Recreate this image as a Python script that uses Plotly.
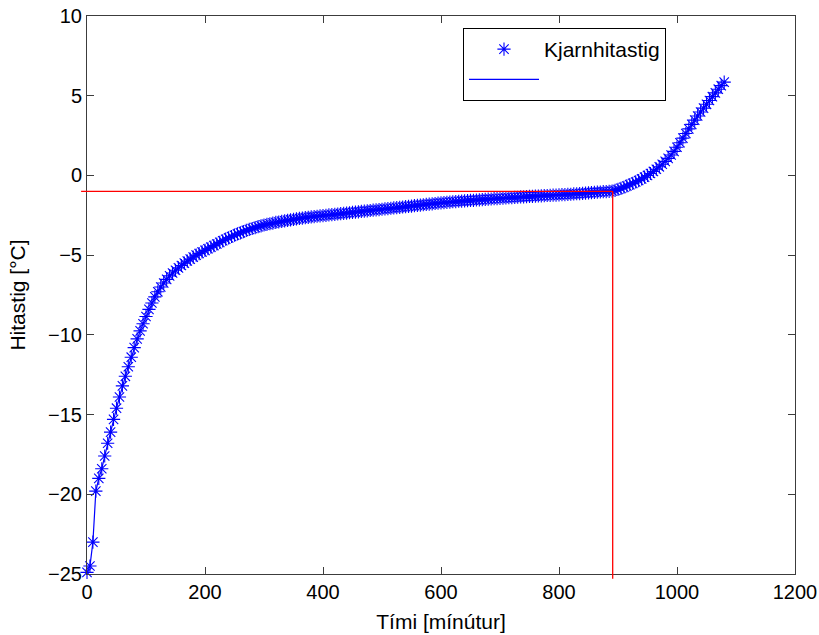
import plotly.graph_objects as go

# Core temperature readings, one every 5 minutes from t = 0
temps = [
    -24.9, -24.5, -23.0, -19.8, -19.0, -18.4, -17.6, -16.8, -16.1, -15.3,
    -14.6, -13.9, -13.2, -12.6, -12.0, -11.4, -10.8, -10.25, -9.75, -9.3,
    -8.85, -8.4, -8.0, -7.62, -7.3, -7.0, -6.75, -6.52, -6.3, -6.12,
    -5.95, -5.8, -5.65, -5.5, -5.37, -5.25, -5.12, -5.0, -4.9, -4.8,
    -4.7, -4.6, -4.5, -4.4, -4.3, -4.2, -4.1, -4.0, -3.92, -3.83,
    -3.75, -3.67, -3.6, -3.52, -3.45, -3.39, -3.33, -3.27, -3.21, -3.16,
    -3.11, -3.07, -3.03, -2.99, -2.95, -2.92, -2.88, -2.85, -2.82, -2.79,
    -2.76, -2.73, -2.7, -2.68, -2.65, -2.63, -2.6, -2.58, -2.56, -2.54,
    -2.52, -2.5, -2.48, -2.46, -2.44, -2.42, -2.4, -2.38, -2.36, -2.34,
    -2.32, -2.3, -2.28, -2.26, -2.24, -2.22, -2.2, -2.18, -2.16, -2.14,
    -2.12, -2.1, -2.08, -2.06, -2.04, -2.02, -2.0, -1.98, -1.96, -1.94,
    -1.92, -1.9, -1.88, -1.86, -1.84, -1.82, -1.8, -1.78, -1.76, -1.74,
    -1.72, -1.7, -1.69, -1.67, -1.65, -1.64, -1.62, -1.61, -1.6, -1.58,
    -1.57, -1.56, -1.54, -1.53, -1.52, -1.5, -1.49, -1.48, -1.46, -1.45,
    -1.44, -1.43, -1.41, -1.4, -1.39, -1.38, -1.37, -1.35, -1.34, -1.33,
    -1.32, -1.31, -1.3, -1.29, -1.28, -1.27, -1.26, -1.25, -1.24, -1.23,
    -1.22, -1.21, -1.2, -1.19, -1.18, -1.16, -1.15, -1.14, -1.12, -1.11,
    -1.09, -1.08, -1.06, -1.05, -1.04, -1.02, -1.01, -1.0, -0.98, -0.94,
    -0.88, -0.81, -0.74, -0.66, -0.58, -0.5, -0.41, -0.32, -0.22, -0.11,
    0.0, 0.12, 0.25, 0.39, 0.54, 0.7, 0.88, 1.07, 1.28, 1.51,
    1.77, 2.05, 2.34, 2.63, 2.92, 3.2, 3.47, 3.73, 3.98, 4.22,
    4.46, 4.7, 4.94, 5.18, 5.41, 5.63, 5.85,
]
step_minutes = 5
times = [step_minutes * i for i in range(len(temps))]

# Reference point where the core reaches -1 °C
freeze_temp = -1.0
freeze_time = 891
ref_left = -10      # horizontal guide starts slightly left of the axis
ref_bottom = -25.3  # vertical guide runs slightly below the axis

x_range = [0, 1200]
y_range = [-25, 10]
x_ticks = [0, 200, 400, 600, 800, 1000, 1200]
y_ticks = [-25, -20, -15, -10, -5, 0, 5, 10]

blue = "rgb(0,0,255)"
red = "rgb(255,0,0)"
frame = "#3c3c3c"
font_family = "Liberation Sans, Arial, sans-serif"
tick_size = 20
title_size = 21
legend_size = 21

# Plot-area geometry in pixels
W, H = 819, 635
M_L, M_R, M_T, M_B = 87, 24, 16, 61
plot_w = W - M_L - M_R
plot_h = H - M_T - M_B


def px(x):
    return (x - x_range[0]) / (x_range[1] - x_range[0])


def py(y):
    return (y - y_range[0]) / (y_range[1] - y_range[0])


fig = go.Figure()
fig.add_trace(go.Scatter(
    x=times, y=temps, mode="markers", name="Kjarnhitastig",
    marker=dict(symbol="asterisk-open", size=11, color=blue,
                line=dict(color=blue, width=1.1)),
    cliponaxis=False,
))
fig.add_trace(go.Scatter(
    x=times, y=temps, mode="lines", name=" ",
    line=dict(color=blue, width=1.2),
))

# Guide lines at the -1 °C crossing (paper coords so they may overhang the axes)
fig.add_shape(type="line", xref="paper", yref="paper",
              x0=px(ref_left), x1=px(freeze_time),
              y0=py(freeze_temp), y1=py(freeze_temp),
              line=dict(color=red, width=1.3))
fig.add_shape(type="line", xref="paper", yref="paper",
              x0=px(freeze_time), x1=px(freeze_time),
              y0=py(freeze_temp), y1=py(ref_bottom),
              line=dict(color=red, width=1.3))

axis_common = dict(
    showgrid=False, zeroline=False, showline=True, linecolor=frame,
    linewidth=1, mirror="ticks", ticks="inside", ticklen=7,
    tickcolor=frame, tickwidth=1, automargin=False,
    tickfont=dict(family=font_family, size=tick_size, color="black"),
)

fig.update_xaxes(range=x_range, tickvals=x_ticks,
                 title=dict(text="Tími [mínútur]", standoff=12,
                            font=dict(family=font_family, size=title_size, color="black")),
                 **axis_common)
fig.update_yaxes(range=y_range, tickvals=y_ticks,
                 title=dict(text="Hitastig [°C]", standoff=16,
                            font=dict(family=font_family, size=title_size, color="black")),
                 **axis_common)

fig.update_layout(
    width=W, height=H,
    margin=dict(l=M_L, r=M_R, t=M_T, b=M_B, autoexpand=False),
    paper_bgcolor="white", plot_bgcolor="white",
    font=dict(family=font_family, size=tick_size, color="black"),
    legend=dict(
        x=(463 - M_L) / plot_w, y=(H - M_B - 28) / plot_h,
        xanchor="left", yanchor="top",
        bgcolor="white", bordercolor="black", borderwidth=1,
        font=dict(family=font_family, size=legend_size, color="black"),
        itemwidth=70, tracegroupgap=2,
    ),
)

fig.write_html("out.html")
